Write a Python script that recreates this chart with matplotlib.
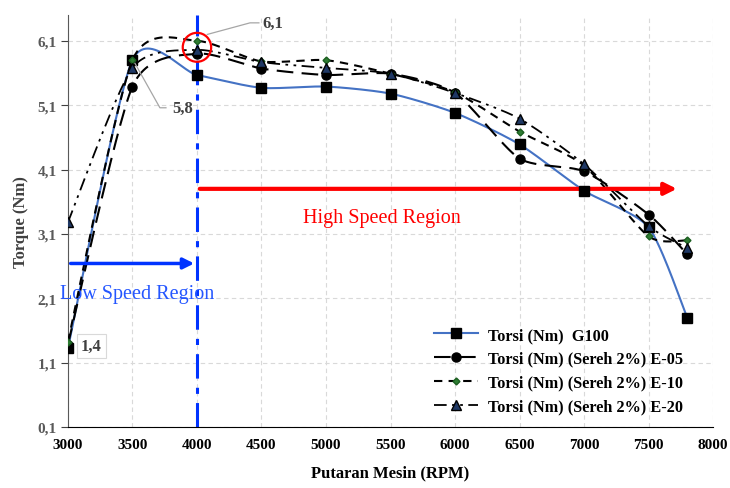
import numpy as np
import matplotlib
matplotlib.use("Agg")
import matplotlib.pyplot as plt
from matplotlib.patches import Ellipse

plt.rcParams['font.family'] = ['Liberation Serif', 'DejaVu Serif']

rpm = [3000, 3500, 4000, 4500, 5000, 5500, 6000, 6500, 7000, 7500, 7800]
g100 = [1.32, 5.8, 5.57, 5.37, 5.39, 5.28, 4.98, 4.49, 3.77, 3.2, 1.79]
e05 = [1.38, 5.39, 5.9, 5.67, 5.57, 5.59, 5.29, 4.27, 4.07, 3.40, 2.78]
e10 = [1.42, 5.8, 6.1, 5.78, 5.8, 5.59, 5.3, 4.69, 4.16, 3.06, 3.0]
e20 = [3.28, 5.68, 5.96, 5.77, 5.68, 5.59, 5.29, 4.89, 4.18, 3.22, 2.88]
names = ["Torsi (Nm)  G100", "Torsi (Nm) (Sereh 2%) E-05",
         "Torsi (Nm) (Sereh 2%) E-10", "Torsi (Nm) (Sereh 2%) E-20"]
yticks = [0.1, 1.1, 2.1, 3.1, 4.1, 5.1, 6.1]
xticks = list(range(3000, 8001, 500))


def smooth(x, y, n=30, k=0.7):
    x = np.asarray(x, float); y = np.asarray(y, float)
    P = np.column_stack([x, y])
    P = np.vstack([P[0], P, P[-1]])
    out = []
    for i in range(1, len(P) - 2):
        p0, p1, p2, p3 = P[i - 1], P[i], P[i + 1], P[i + 2]
        c1 = p1 + k * (p2 - p0) / 6
        c2 = p2 - k * (p3 - p1) / 6
        t = np.linspace(0, 1, n, endpoint=False)[:, None]
        c = ((1 - t) ** 3) * p1 + 3 * ((1 - t) ** 2) * t * c1 + 3 * (1 - t) * t ** 2 * c2 + t ** 3 * p2
        out.append(c)
    out.append(P[-2][None, :])
    c = np.vstack(out)
    return c[:, 0], c[:, 1]


fig = plt.figure(figsize=(7.30, 4.89), dpi=100)
ax = fig.add_axes([0.093, 0.125, 0.884, 0.842])

styles = [
    dict(color='#4472C4', ls='-', lw=1.5, marker='s', mfc='black', mec='black', ms=7),
    dict(color='black', ls=(0, (8, 4)), lw=1.5, marker='o', mfc='black', mec='black', ms=6.5),
    dict(color='black', ls=(0, (4, 3)), lw=1.5, marker='D', mfc='#2e7d32', mec='#1b5e20', ms=3.5),
    dict(color='black', ls=(0, (7, 3, 1.5, 3, 1.5, 3)), lw=1.3, marker='^', mfc='#1f3864', mec='black', ms=7),
]
series = [g100, e05, e10, e20]
for vals, st, nm in zip(series, styles, names):
    sx, sy = smooth(rpm, vals)
    ax.plot(sx, sy, color=st['color'], ls=st['ls'], lw=st['lw'], zorder=3)
    ax.plot(rpm, vals, ls='none', marker=st['marker'], mfc=st['mfc'], mec=st['mec'],
            ms=st['ms'], zorder=4)
    ax.plot([], [], color=st['color'], ls=st['ls'], lw=st['lw'], marker=st['marker'],
            mfc=st['mfc'], mec=st['mec'], ms=st['ms'], label=nm)

ax.set_xlim(3000, 8000)
ax.set_ylim(0.1, 6.5)
ax.set_xticks(xticks)
ax.set_yticks(yticks)
ax.set_yticklabels([f"{v:.1f}".replace('.', ',') for v in yticks])
for lab in ax.get_xticklabels() + ax.get_yticklabels():
    lab.set_fontweight('bold')
    lab.set_fontsize(11)
ax.tick_params(axis='x', colors='black', length=0, pad=8)
ax.tick_params(axis='y', colors='#404040', length=5, direction='out', pad=3)
for lab in ax.get_yticklabels():
    lab.set_color('#595959')
ax.grid(True, ls=(0, (4, 3)), color='#d9d9d9', lw=0.8)
ax.set_axisbelow(True)
for s in ['top', 'right']:
    ax.spines[s].set_visible(False)
ax.spines['left'].set_color('#595959')
ax.spines['bottom'].set_color('black')
ax.set_xlabel('Putaran Mesin (RPM)', fontsize=12, fontweight='bold', labelpad=10)
ax.set_ylabel('Torque (Nm)', fontsize=12, fontweight='bold', color='#404040', labelpad=6)

# region markers
ax.axvline(4000, color='#0033ff', ls=(0, (8, 3, 2, 3)), lw=2.2, zorder=2)
ax.annotate('', xy=(4000, 2.64), xytext=(3000, 2.64),
            arrowprops=dict(arrowstyle='-|>', color='#0033ff', lw=2.5, mutation_scale=16))
ax.text(3535, 2.18, 'Low Speed Region', color='#2456ff', fontsize=14.5, ha='center', va='center')
ax.annotate('', xy=(7740, 3.8), xytext=(4000, 3.8),
            arrowprops=dict(arrowstyle='-|>', color='#ff0000', lw=3, mutation_scale=18))
ax.text(5434, 3.36, 'High Speed Region', color='#ff0000', fontsize=14.5, ha='center', va='center')

# highlight circle
circ = Ellipse((4000, 6.0), width=220, height=0.45, fill=False, ec='#ff0000', lw=1.6, zorder=5)
ax.add_patch(circ)

# annotations with leader lines
ax.plot([4080, 4411, 4480], [6.2, 6.38, 6.38], color='#a6a6a6', lw=0.9, zorder=5)
ax.text(4510, 6.38, '6,1', fontsize=12, fontweight='bold', color='#404040', ha='left', va='center')
ax.plot([3520, 3713, 3760], [5.75, 5.06, 5.06], color='#a6a6a6', lw=0.9, zorder=5)
ax.text(3810, 5.06, '5,8', fontsize=12, fontweight='bold', color='#404040', ha='left', va='center')
ax.text(3100, 1.36, '1,4', fontsize=12, fontweight='bold', color='#404040', ha='left', va='center',
        bbox=dict(boxstyle='square,pad=0.25', fc='white', ec='#d9d9d9', lw=0.8))

leg = ax.legend(loc='lower left', bbox_to_anchor=(0.545, -0.005), frameon=False,
                prop=dict(weight='bold', size=11.7), handlelength=2.7, labelspacing=0.48,
                handletextpad=0.6)

fig.savefig('out.png', dpi=100)
